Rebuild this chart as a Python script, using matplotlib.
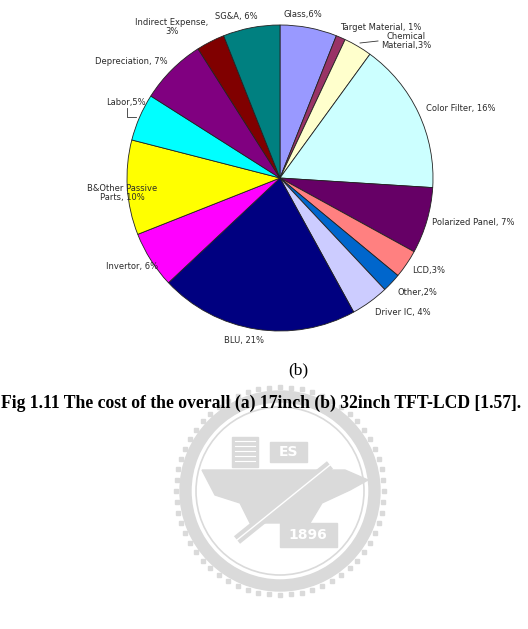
import numpy as np
import matplotlib
matplotlib.use('Agg')
from matplotlib import pyplot as plt
from matplotlib.patches import Circle, Rectangle, Wedge, Polygon

# Cost breakdown of a 32inch TFT-LCD panel (percent)
labels = ['Glass,6%', 'Target Material, 1%', 'Chemical\nMaterial,3%', 'Color Filter, 16%',
          'Polarized Panel, 7%', 'LCD,3%', 'Other,2%', 'Driver IC, 4%', 'BLU, 21%',
          'Invertor, 6%', 'B&Other Passive\nParts, 10%', 'Labor,5%', 'Depreciation, 7%',
          'Indirect Expense,\n3%', 'SG&A, 6%']
values = [6, 1, 3, 16, 7, 3, 2, 4, 21, 6, 10, 5, 7, 3, 6]
colors = ['#9999FF', '#993366', '#FFFFCC', '#CCFFFF', '#660066', '#FF8080', '#0066CC',
          '#CCCCFF', '#000080', '#FF00FF', '#FFFF00', '#00FFFF', '#800080', '#800000', '#008080']

# Label anchor points in pixels (x, y from top) and alignment
label_pos = [(283, 15, 'left'), (340, 28, 'left'), (406, 41, 'center'), (426, 108, 'left'),
             (432, 222, 'left'), (412, 270, 'left'), (397, 292, 'left'), (375, 312, 'left'),
             (224, 340, 'left'), (106, 266, 'left'), (122, 193, 'center'), (106, 102, 'left'),
             (95, 61, 'left'), (172, 27, 'center'), (215, 17, 'left')]

W, H = 528, 629
fig = plt.figure(figsize=(W / 100, H / 100), dpi=100)
ax = fig.add_axes([0, 0, 1, 1])


def py(y):
    # convert pixel-from-top to data y
    return H - y


# Watermark (faint gear seal behind the caption)
wm = '#dadada'
cx, cy = 280, py(491)
ax.add_patch(Wedge((cx, cy), 100, 0, 360, width=11, color=wm, zorder=0))
for a in np.linspace(0, 2 * np.pi, 60, endpoint=False):
    ax.add_patch(Rectangle((cx + 104 * np.cos(a) - 2, cy + 104 * np.sin(a) - 2), 4, 4,
                           color=wm, zorder=0))
ax.add_patch(Circle((cx, cy), 84, fill=False, ec=wm, lw=1.2, zorder=0))
# book and "ES" blocks
ax.add_patch(Rectangle((232, py(467)), 26, 30, color=wm, zorder=0))
for yy in range(441, 466, 5):
    ax.plot([235, 255], [py(yy), py(yy)], color='white', lw=0.8, zorder=0)
ax.add_patch(Rectangle((270, py(462)), 37, 20, color=wm, zorder=0))
ax.text(288, py(452), 'ES', ha='center', va='center', color='white', fontsize=10,
        fontweight='bold', zorder=0)
# anvil
anvil = [(202, 470), (345, 470), (368, 480), (350, 490), (322, 503), (310, 523),
         (250, 523), (240, 503), (215, 495)]
ax.add_patch(Polygon([(x, py(y)) for x, y in anvil], closed=True, color=wm, zorder=0))
# hammer
ax.plot([237, 330], [py(540), py(465)], color=wm, lw=7, solid_capstyle='butt', zorder=0)
ax.plot([237, 330], [py(540), py(465)], color='white', lw=1, zorder=0)
ax.add_patch(Rectangle((280, py(547)), 57, 24, color=wm, zorder=0))
ax.text(308, py(535), '1896', ha='center', va='center', color='white', fontsize=10,
        fontweight='bold', zorder=0)

# Pie
ax.pie(values, colors=colors, startangle=90, counterclock=False, center=(280, py(178)),
       radius=153, wedgeprops=dict(edgecolor='#222222', linewidth=0.6), frame=True)
ax.set_xlim(0, W)
ax.set_ylim(0, H)
ax.set_aspect('equal')
ax.axis('off')

for lab, (x, y, ha) in zip(labels, label_pos):
    ax.text(x, py(y), lab, ha=ha, va='center', fontsize=6, color='#2a2a2a',
            family='DejaVu Sans', linespacing=1.1, zorder=5)

# Leader lines
ax.plot([360, 378], [py(43), py(41)], color='#333333', lw=0.6)
ax.plot([127, 127, 136], [py(108), py(117), py(117)], color='#333333', lw=0.6)

# Captions
ax.text(298, py(370), '(b)', ha='center', va='center', fontsize=12.5, family='Liberation Serif')
ax.text(1, py(403), 'Fig 1.11 The cost of the overall (a) 17inch (b) 32inch TFT-LCD [1.57].',
        ha='left', va='center', fontsize=12.7, fontweight='bold', family='Liberation Serif',
        zorder=5)

fig.savefig('out.png', dpi=100)
